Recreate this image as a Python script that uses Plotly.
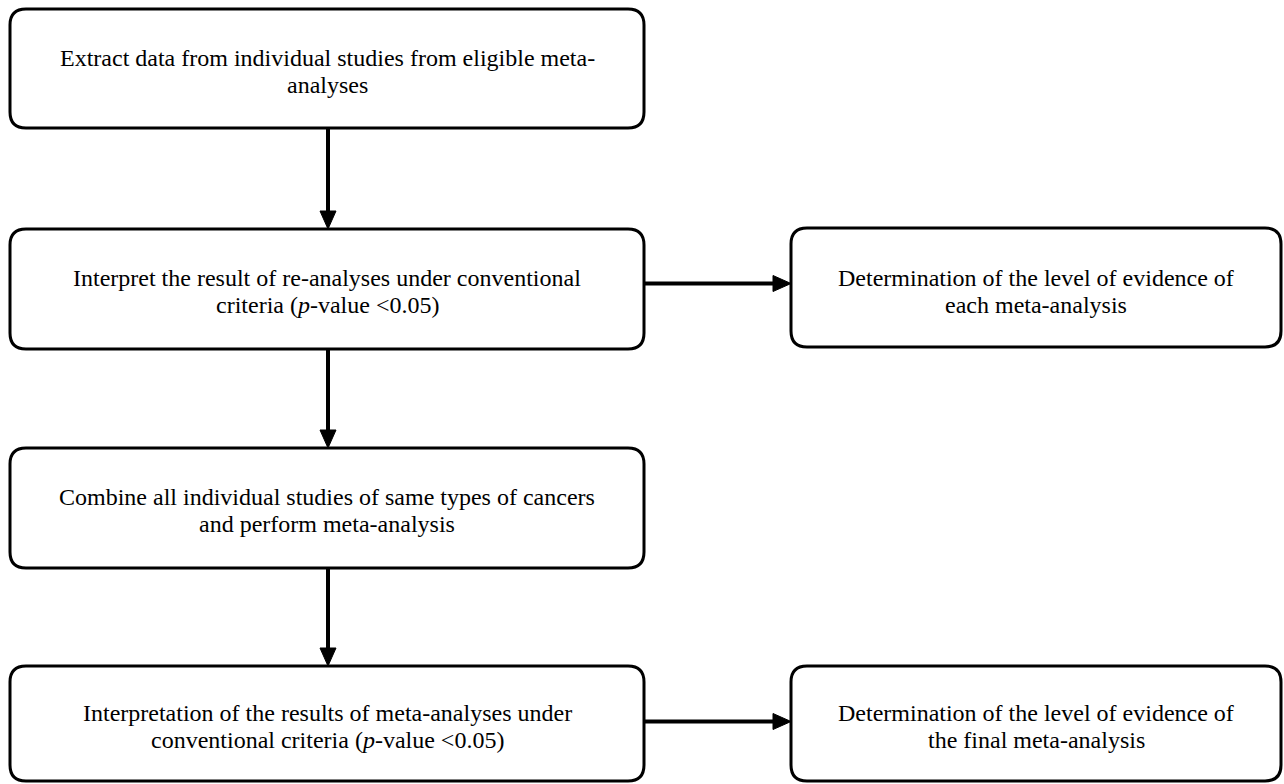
import plotly.graph_objects as go

# Box texts (one list of lines per box)
box_lines = [
    ["Extract data from individual studies from eligible meta-", "analyses"],
    ["Interpret the result of re-analyses under conventional", "criteria (<i>p</i>-value <0.05)"],
    ["Combine all individual studies of same types of cancers", "and perform meta-analysis"],
    ["Interpretation of the results of meta-analyses under", "conventional criteria (<i>p</i>-value <0.05)"],
    ["Determination of the level of evidence of", "each meta-analysis"],
    ["Determination of the level of evidence of", "the final meta-analysis"],
]
# arrows: (from box, to box, direction)
arrows = [(0, 1, "v"), (1, 2, "v"), (2, 3, "v"), (1, 4, "h"), (3, 5, "h")]

# ---- layout geometry (page pixel coordinates) ----
boxes = [
    (10, 9, 644, 128),
    (10, 229, 644, 349),
    (10, 448, 644, 568),
    (10, 666, 644, 781),
    (791, 228, 1281, 347),
    (791, 666, 1281, 781),
]
text_centers = [71.5, 291, 510, 726, 291, 726]
h_arrow_y = {4: 283.5, 5: 721.5}
V_X = 328
LINE_GAP = 27
R = 16
HL = 18  # arrowhead length
HW = 8   # arrowhead half width
PAGE_W, PAGE_H = 1284, 784

def rounded(x0, y0, x1, y1, r):
    return (f"M {x0+r},{y0} L {x1-r},{y0} Q {x1},{y0} {x1},{y0+r} "
            f"L {x1},{y1-r} Q {x1},{y1} {x1-r},{y1} L {x0+r},{y1} "
            f"Q {x0},{y1} {x0},{y1-r} L {x0},{y0+r} Q {x0},{y0} {x0+r},{y0} Z")

fig = go.Figure()
shapes = []
annotations = []
for (x0, y0, x1, y1), lines, yc in zip(boxes, box_lines, text_centers):
    shapes.append(dict(type="path", path=rounded(x0, y0, x1, y1, R),
                       line=dict(color="black", width=3), fillcolor="white",
                       xref="x", yref="y", layer="below"))
    n = len(lines)
    for i, t in enumerate(lines):
        ly = yc + (i - (n - 1) / 2) * LINE_GAP
        annotations.append(dict(x=(x0 + x1) / 2, y=ly, text=t,
                                showarrow=False, xref="x", yref="y",
                                font=dict(family="Liberation Serif", size=24, color="black"),
                                align="center", yanchor="middle", xanchor="center"))

for a, b, d in arrows:
    A, B = boxes[a], boxes[b]
    if d == "v":
        x = V_X
        ys, ye = A[3], B[1]
        shapes.append(dict(type="line", x0=x, x1=x, y0=ys, y1=ye - HL + 2,
                           line=dict(color="black", width=4), xref="x", yref="y"))
        shapes.append(dict(type="path",
                           path=f"M {x-HW},{ye-HL} L {x+HW},{ye-HL} L {x},{ye} Z",
                           fillcolor="black", line=dict(color="black", width=1),
                           xref="x", yref="y"))
    else:
        y = h_arrow_y[b]
        xs, xe = A[2], B[0]
        shapes.append(dict(type="line", x0=xs, x1=xe - HL + 2, y0=y, y1=y,
                           line=dict(color="black", width=4), xref="x", yref="y"))
        shapes.append(dict(type="path",
                           path=f"M {xe-HL},{y-HW} L {xe-HL},{y+HW} L {xe},{y} Z",
                           fillcolor="black", line=dict(color="black", width=1),
                           xref="x", yref="y"))

fig.update_layout(
    width=PAGE_W, height=PAGE_H, margin=dict(l=0, r=0, t=0, b=0),
    paper_bgcolor="white", plot_bgcolor="white",
    xaxis=dict(range=[0, PAGE_W], visible=False, fixedrange=True),
    yaxis=dict(range=[PAGE_H, 0], visible=False, fixedrange=True),
    shapes=shapes, annotations=annotations, showlegend=False,
)
fig.write_html(
    "out.html",
    config={"displayModeBar": False},
    post_script="document.body.style.margin='0';document.body.style.overflow='hidden';",
)
